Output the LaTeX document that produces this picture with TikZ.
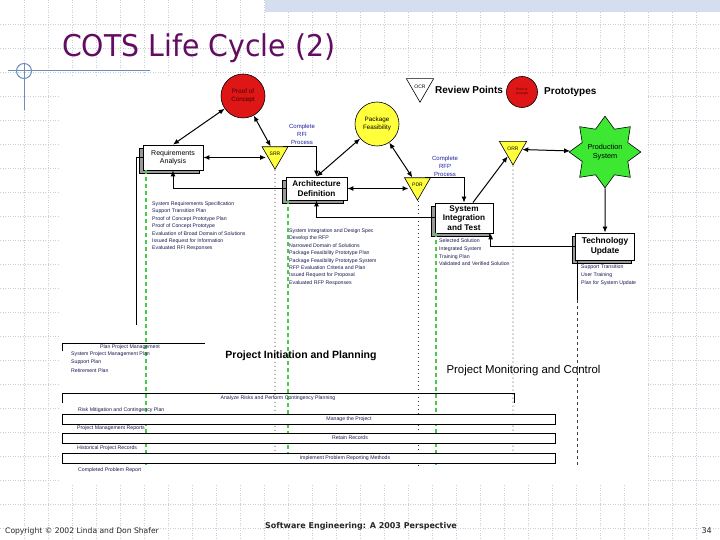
\documentclass[tikz,border=0pt]{standalone}
\usepackage{fontspec}
\setmainfont{Liberation Sans}
\newfontfamily\tahoma{DejaVu Sans}
\usetikzlibrary{shapes.geometric,arrows.meta,shadows}
\definecolor{ttlc}{RGB}{98,12,98}
\definecolor{deco}{RGB}{110,140,190}
\definecolor{grdc}{RGB}{200,205,220}
\definecolor{bandc}{RGB}{212,222,238}
\definecolor{pred}{RGB}{222,22,22}
\definecolor{pyel}{RGB}{255,255,60}
\definecolor{pgrn}{RGB}{60,232,50}
\definecolor{gdash}{RGB}{70,205,70}
\definecolor{navy}{RGB}{25,25,80}
\definecolor{lblue}{RGB}{30,30,160}
\newcommand\myfs[2]{\fontsize{#1}{#2}\selectfont}
\begin{document}
\begin{tikzpicture}[x=1pt,y=-1pt,
  gridl/.style={grdc, line width=0.5pt, dotted},
  pbox/.style={draw, fill=white, line width=0.8pt, inner sep=0.5pt, align=center,
    general shadow={shadow xshift=-3.5pt, shadow yshift=-3.5pt, fill=black!40, draw=black, line width=0.6pt}},
  rev/.style={regular polygon, regular polygon sides=3, shape border rotate=180, draw, fill=pyel,
    line width=0.6pt, inner sep=0pt, minimum size=29pt, font=\myfs{5}{5}},
  proto/.style={circle, draw, line width=0.6pt, inner sep=0pt, align=center},
  lst/.style={anchor=north west, inner sep=0pt, align=left, text=navy, font=\myfs{5.2}{7.4}},
  lbl/.style={inner sep=0pt, text=navy, font=\myfs{5.2}{6}},
  blu/.style={inner sep=0pt, align=center, text=lblue, font=\myfs{6}{8}},
  row/.style={draw, fill=white, line width=0.8pt, minimum height=10pt, minimum width=493pt, inner sep=0pt},
  arr/.style={line width=1pt, -{Latex[length=6pt,width=5pt]}},
  darr/.style={line width=1pt, {Latex[length=6pt,width=5pt]}-{Latex[length=6pt,width=5pt]}},
  gline/.style={gdash, line width=1.3pt, dash pattern=on 4pt off 3pt},
  rline/.style={black!80, line width=0.8pt, dash pattern=on 1pt off 3pt},
  tline/.style={black!75, line width=0.8pt, dash pattern=on 3pt off 3pt}]
\useasboundingbox (0,0) rectangle (720,540);
\fill[white] (0,0) rectangle (720,540);
% grid
\foreach \i in {1,...,29} \draw[gridl] (\i*24,0) -- (\i*24,540);
\foreach \j in {1,...,22} \draw[gridl] (0,\j*24) -- (720,\j*24);
\fill[bandc] (265,0) rectangle (720,12);
% diagram background
\fill[white] (59,76) rectangle (647,484);
% decoration
\draw[deco, line width=1pt] (8,71) -- (150,71);
\draw[deco, line width=1pt] (24,63) -- (24,110);
\draw[deco, line width=1pt] (24,71) circle (7.5);
% title
\node[anchor=base west, inner sep=0pt, text=ttlc, font=\tahoma\myfs{30}{34}] (title) at (62,57) {\scalebox{0.945}[1]{COTS Life Cycle (2)}};

% main nodes
\node[proto, fill=pred, minimum size=44pt, font=\myfs{6.3}{7.5}, text=black!75!red] (poc) at (243,96) {Proof of\\Concept};
\node[proto, fill=pyel, minimum size=44pt, font=\myfs{6.3}{7.5}] (pkg) at (377,124) {Package\\Feasibility};
\node[star, star points=8, star point ratio=1.45, draw, line width=0.6pt, fill=pgrn, minimum size=68pt, inner sep=0pt, align=center, font=\myfs{7.3}{9}] (prod) at (605,152) {Production\\System};

\node[pbox, minimum width=60pt, minimum height=25pt, font=\myfs{7}{8.5}] (req) at (173,157.5) {Requirements\\Analysis};
\node[pbox, minimum width=61pt, minimum height=23pt, font=\bfseries\myfs{8.2}{10}] (arch) at (316.5,188.5) {Architecture\\Definition};
\node[pbox, minimum width=58pt, minimum height=30pt, font=\bfseries\myfs{8.2}{9.3}] (sit) at (464,218) {System\\Integration\\and Test};
\node[pbox, minimum width=59pt, minimum height=27pt, font=\bfseries\myfs{8.4}{10.5}] (tech) at (605,246.5) {Technology\\Update};

\node[rev] (srr) at (275,154.25) {SRR};
\node[rev] (pdr) at (417.5,185.25) {PDR};
\node[rev] (orr) at (513,149.25) {ORR};

% legend
\node[rev, fill=white, minimum size=30pt] (lrev) at (420,86.5) {OCR};
\node[anchor=west, inner sep=0pt, font=\bfseries\myfs{10}{12}] (lrevt) at (435,90) {Review Points};
\node[proto, fill=pred, minimum size=31pt, font=\myfs{3.2}{3.8}, text=black!70!red] (lpro) at (522,92) {Proof of\\Concept};
\node[anchor=west, inner sep=0pt, font=\bfseries\myfs{10}{12}] (lprot) at (544,92.5) {Prototypes};

% blue labels
\node[blu] (crfi) at (302,134) {Complete\\RFI\\Process};
\node[blu] (crfp) at (445,166) {Complete\\RFP\\Process};

% vertical review lines
\coordinate (g1) at (146,465);
\coordinate (g2) at (288,465);
\coordinate (g3) at (436,465);
\coordinate (r1) at (275,465);
\coordinate (r2) at (418,465);
\coordinate (r3) at (513,465);
\coordinate (t1) at (577,300);
\coordinate (t2) at (577,465);
\coordinate (rb) at (136,325);
\draw[gline] (req.south -| g1) -- (g1);
\draw[gline] (arch.south -| g2) -- (g2);
\draw[gline] (sit.south -| g3) -- (g3);
\draw[rline] (srr.south) -- (r1);
\draw[rline] (pdr.south -| r2) -- (r2);
\draw[rline] (orr.south) -- (r3);
\draw[line width=0.9pt] (tech.south -| t1) -- (t1);
\draw[tline] (t1) -- (t2);
\draw[line width=1pt] (req.west) -| (rb);

% connectors
\draw[darr] (poc) -- (req.north);
\draw[darr] (poc) -- (srr);
\draw[darr] (req.east) -- (req.east -| srr.west);
\draw[arr] (srr.north east) -| (arch.north);
\draw[darr] (pkg) -- (arch.north);
\draw[darr] (pkg) -- (pdr);
\draw[darr] (arch.east) -- (arch.east -| pdr.west);
\draw[arr] (pdr.north east) -| (sit.north);
\draw[arr] (sit.west) -| (arch.south);
\draw[arr] (arch.west) -| (req.south);
\draw[arr] (sit.60) -- (orr);
\draw[darr] (orr) -- (prod);
\draw[arr] (prod) -- (tech.north);
\draw[arr] (tech.west) -| (sit.-30);

% output lists
\node[lst] (reqo) at (152,201.5) {System Requirements Specification\\Support Transition Plan\\Proof of Concept Prototype Plan\\Proof of Concept Prototype\\Evaluation of Broad Domain of Solutions\\Issued Request for Information\\Evaluated RFI Responses};
\node[lst] (archo) at (289,228.5) {System Integration and Design Spec\\Develop the RFP\\Narrowed Domain of Solutions\\Package Feasibility Prototype Plan\\Package Feasibility Prototype System\\RFP Evaluation Criteria and Plan\\Issued Request for Proposal\\Evaluated RFP Responses};
\node[lst, font=\myfs{5.2}{7.8}] (sito) at (439,238.5) {Selected Solution\\Integrated System\\Training Plan\\Validated and Verified Solution};
\node[lst, font=\myfs{5.2}{8}] (techo) at (581,265) {Support Transition\\User Training\\Plan for System Update};

% phase labels
\node[inner sep=0pt, font=\bfseries\myfs{10.5}{12}] (pip) at (301,356) {Project Initiation and Planning};
\node[inner sep=0pt, font=\myfs{11.4}{13}] (pmc) at (523.5,371) {Project Monitoring and Control};

% bottom section
\draw[line width=0.8pt] (62,351) -- (62,343) -- (205,343);
\node[lbl] (ppm) at (130,347.5) {Plan Project Management};
\node[lst, font=\myfs{5.2}{8.4}] (ppmo) at (71,351.5) {System Project Management Plan\\Support Plan\\Retirement Plan};

\draw[line width=0.8pt] (62,403) -- (62,393) -- (514,393) -- (514,403);
\node[lbl] (arp) at (278,398.5) {Analyze Risks and Perform Contingency Planning};
\node[lbl, anchor=west] (rmc) at (78,410) {Risk Mitigation and Contingency Plan};

\node[row] (mgp) at (308.5,419) {};
\node[lbl] (mgpt) at (349,419) {Manage the Project};
\node[lbl, anchor=west] (pmr) at (77,428.5) {Project Management Reports};

\node[row] (rtr) at (308.5,438) {};
\node[lbl] (rtrt) at (350,438) {Retain Records};
\node[lbl, anchor=west] (hpr) at (77,448) {Historical Project Records};

\node[row] (ipr) at (308.5,458) {};
\node[lbl] (iprt) at (345,458) {Implement Problem Reporting Methods};
\node[lbl, anchor=west] (cpr) at (78,470) {Completed Problem Report};

% footer
\node[anchor=base west, inner sep=0pt, font=\tahoma\myfs{7.6}{9}, text=black!85] (copy) at (5,533.5) {Copyright \textcopyright{} 2002 Linda and Don Shafer};
\node[anchor=base, inner sep=0pt, font=\tahoma\bfseries\myfs{8}{9}, text=black!85] (foot) at (361,528) {Software Engineering: A 2003 Perspective};
\node[anchor=base east, inner sep=0pt, font=\tahoma\myfs{8}{9}, text=black!85] (pg) at (712,533.5) {34};
\end{tikzpicture}
\end{document}
